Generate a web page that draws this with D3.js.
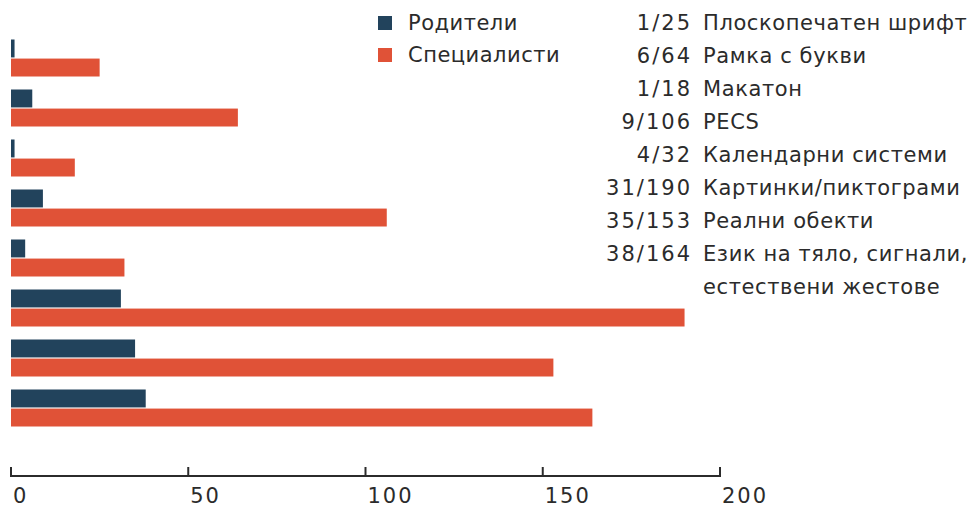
<!DOCTYPE html>
<html lang="bg">
<head>
<meta charset="UTF-8">
<title>Комуникационни системи</title>
<script src="https://d3js.org/d3.v7.min.js"></script>
<style>
  html, body { margin: 0; background: #fff; }
  text { font-family: "DejaVu Sans", sans-serif; fill: #2b2b2b; font-size: 21px; }
  .num, .tlabel { letter-spacing: 2px; }
  .name { letter-spacing: 0.6px; }
  .leg { letter-spacing: 0.5px; }
</style>
</head>
<body>
<div id="chart"></div>
<script>
const categories = [
  "Плоскопечатен шрифт",
  "Рамка с букви",
  "Макатон",
  "PECS",
  "Календарни системи",
  "Картинки/пиктограми",
  "Реални обекти",
  "Език на тяло, сигнали,|естествени жестове"
]
const parents = [1, 6, 1, 9, 4, 31, 35, 38]
const specialists = [25, 64, 18, 106, 32, 190, 153, 164]
const seriesNames = ["Родители", "Специалисти"]
const seriesColors = ["#22435c", "#e05237"]
const xTicks = [0, 50, 100, 150, 200]

const width = 970, height = 508

const svg = d3.select("#chart").append("svg")
  .attr("width", width)
  .attr("height", height)

const x = d3.scaleLinear().domain([0, 200]).range([11, 720])

const y0 = d3.scaleBand()
  .domain(categories)
  .range([33, 433])
  .paddingInner(0.26)
  .paddingOuter(0.13)

const y1 = d3.scaleBand()
  .domain(seriesNames)
  .range([0, y0.bandwidth()])
  .paddingInner(0.06)

const color = d3.scaleOrdinal().domain(seriesNames).range(seriesColors)

const rows = categories.map((c, i) => ({ cat: c, values: [parents[i], specialists[i]] }))

const groups = svg.append("g").selectAll("g")
  .data(rows)
  .join("g")
  .attr("transform", d => `translate(0,${y0(d.cat)})`)

groups.selectAll("rect")
  .data(d => d.values.map((v, k) => ({ key: seriesNames[k], v })))
  .join("rect")
  .attr("x", x(0))
  .attr("y", d => y1(d.key))
  .attr("width", d => x(d.v) - x(0))
  .attr("height", y1.bandwidth())
  .attr("fill", d => color(d.key))

// axis
const axis = svg.append("g").attr("transform", `translate(0,476)`)
axis.append("line")
  .attr("x1", x(0)).attr("x2", x(200))
  .attr("stroke", "#2b2b2b").attr("stroke-width", 2)
axis.selectAll(".tick")
  .data(xTicks)
  .join("line")
  .attr("class", "tick")
  .attr("x1", d => x(d)).attr("x2", d => x(d))
  .attr("y1", 1).attr("y2", -9)
  .attr("stroke", "#2b2b2b").attr("stroke-width", 2)
axis.selectAll(".tlabel")
  .data(xTicks)
  .join("text")
  .attr("class", "tlabel")
  .attr("x", d => x(d) + 2)
  .attr("y", 27)
  .text(d => d)

// legend
const legend = svg.append("g").attr("transform", "translate(378,0)")
seriesNames.forEach((s, i) => {
  legend.append("rect")
    .attr("x", 0).attr("y", 16 + i * 32)
    .attr("width", 14).attr("height", 14)
    .attr("fill", color(s))
  legend.append("text")
    .attr("class", "leg")
    .attr("x", 30).attr("y", 30 + i * 32)
    .text(s)
})

// right-hand labels
const ly = i => 30 + i * 33
const labels = svg.append("g")
labels.selectAll(".num")
  .data(rows)
  .join("text")
  .attr("class", "num")
  .attr("x", 692)
  .attr("y", (d, i) => ly(i))
  .attr("text-anchor", "end")
  .text(d => d.values[0] + "/" + d.values[1])

labels.selectAll(".name")
  .data(rows)
  .join("text")
  .attr("class", "name")
  .attr("x", 703)
  .attr("y", (d, i) => ly(i))
  .each(function (d) {
    const parts = d.cat.split("|")
    d3.select(this).selectAll("tspan")
      .data(parts)
      .join("tspan")
      .attr("x", 703)
      .attr("dy", (p, j) => j === 0 ? 0 : 33)
      .text(p => p)
  })
</script>
</body>
</html>
